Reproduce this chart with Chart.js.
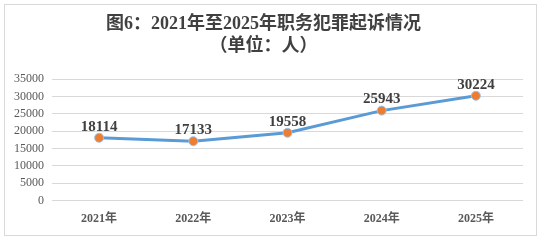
<!DOCTYPE html>
<html>
<head>
<meta charset="utf-8">
<script src="https://cdn.jsdelivr.net/npm/chart.js@4"></script>
<style>
  body { margin: 0; background: #fff; }
  #wrap { position: relative; width: 542px; height: 240px; }
  #frame { position: absolute; left: 4px; top: 4px; width: 531px; height: 230px; border: 1px solid #d9d9d9; pointer-events: none; }
  canvas { position: absolute; left: 0; top: 0; }
</style>
</head>
<body>
<div id="wrap">
  <canvas id="myChart" width="542" height="240"></canvas>
  <div id="frame"></div>
</div>
<script>
var years = ["2021年", "2022年", "2023年", "2024年", "2025年"];
var cases = [18114, 17133, 19558, 25943, 30224];
var titleLines = ["图6：2021年至2025年职务犯罪起诉情况", "（单位：人）"];

var serif = '"Liberation Serif", "Noto Sans CJK SC", serif';

// draws the number above each point
var valueLabels = {
  id: 'valueLabels',
  afterDatasetsDraw: function(chart) {
    var c = chart.ctx;
    var meta = chart.getDatasetMeta(0);
    c.save();
    c.font = 'bold 15px ' + serif;
    c.fillStyle = '#404040';
    c.textAlign = 'center';
    c.textBaseline = 'middle';
    meta.data.forEach(function(pt, i) {
      c.fillText(String(cases[i]), pt.x, pt.y - 11);
    });
    c.restore();
  }
};

var ctx = document.getElementById("myChart");

var myChart = new Chart(ctx, {
  type: 'line',
  data: {
    labels: years,
    datasets: [{
      data: cases,
      borderColor: "#5B9BD5",
      borderWidth: 3,
      pointBackgroundColor: "#ED7D31",
      pointBorderColor: "#9DC3E6",
      pointBorderWidth: 1,
      pointRadius: 4.5,
      tension: 0
    }]
  },
  options: {
    responsive: false,
    animation: false,
    layout: {
      padding: { left: 4, right: 19, top: 4, bottom: 11 }
    },
    plugins: {
      legend: { display: false },
      tooltip: { enabled: false },
      title: {
        display: true,
        text: titleLines,
        color: '#404040',
        font: { family: serif, size: 18, weight: 'bold', lineHeight: 1.2 },
        padding: { top: 10, bottom: 22 }
      }
    },
    scales: {
      x: {
        offset: true,
        grid: { display: false },
        border: { display: false },
        ticks: {
          color: '#595959',
          padding: 3,
          font: { family: serif, size: 12, weight: 'bold' }
        }
      },
      y: {
        min: 0,
        max: 35000,
        border: { display: false },
        grid: { color: '#d9d9d9', drawTicks: false },
        afterFit: function(scale) { scale.width = 48; },
        ticks: {
          stepSize: 5000,
          autoSkip: false,
          padding: 8,
          color: '#595959',
          font: { family: serif, size: 12 },
          callback: function(v) { return String(v); }
        }
      }
    }
  },
  plugins: [valueLabels]
});
</script>
</body>
</html>
